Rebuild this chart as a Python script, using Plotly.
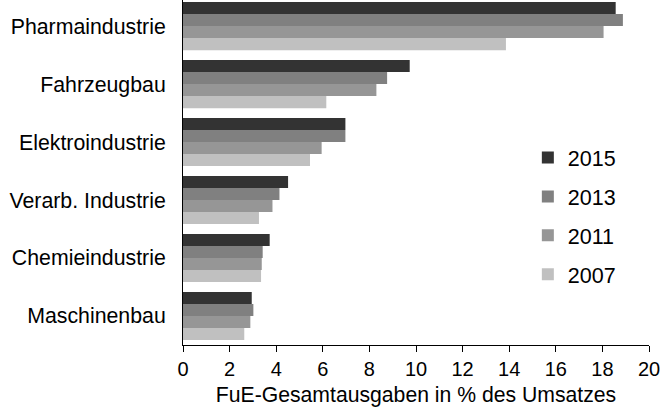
import plotly.graph_objects as go

categories = ["Maschinenbau", "Chemieindustrie", "Verarb. Industrie",
              "Elektroindustrie", "Fahrzeugbau", "Pharmaindustrie"]
years = ["2007", "2011", "2013", "2015"]
v2007 = [2.63, 3.35, 3.26, 5.45, 6.15, 13.86]
v2011 = [2.89, 3.38, 3.84, 5.95, 8.30, 18.05]
v2013 = [3.02, 3.42, 4.14, 6.97, 8.76, 18.88]
v2015 = [2.95, 3.72, 4.51, 6.97, 9.73, 18.57]
values = [v2007, v2011, v2013, v2015]
colors = ["#c0c0c0", "#969696", "#808080", "#333333"]
legend_ranks = [4, 3, 2, 1]
x_ticks = [0, 2, 4, 6, 8, 10, 12, 14, 16, 18, 20]
x_title = "FuE-Gesamtausgaben in % des Umsatzes"

FONT = "Liberation Sans, Arial, sans-serif"

fig = go.Figure()
for yr, vals, col, rk in zip(years, values, colors, legend_ranks):
    fig.add_trace(go.Bar(
        y=categories, x=vals, name=yr, orientation="h",
        marker=dict(color=col, line=dict(width=0)),
        legendgroup=yr, legendrank=rk,
    ))

fig.update_layout(
    width=661, height=407,
    margin=dict(l=183, r=12, t=0, b=62),
    paper_bgcolor="white", plot_bgcolor="white",
    barmode="group", bargap=0.17, bargroupgap=0,
    font=dict(family=FONT, size=21, color="black"),
    showlegend=True,
    legend=dict(
        x=0.74, xanchor="left", y=0.603, yanchor="top",
        traceorder="grouped", tracegroupgap=8,
        font=dict(family=FONT, size=21.5, color="black"),
        bgcolor="rgba(0,0,0,0)", borderwidth=0,
        itemwidth=30,
    ),
    xaxis=dict(
        range=[0, 20], tickvals=x_ticks, ticks="outside", ticklen=6,
        tickcolor="black", tickwidth=1,
        showline=True, linecolor="black", linewidth=1.3,
        showgrid=False, zeroline=False,
        tickfont=dict(family=FONT, size=20, color="black"),
        title=dict(text=x_title, standoff=9,
                   font=dict(family=FONT, size=21.2, color="black")),
    ),
    yaxis=dict(
        categoryorder="array", categoryarray=categories,
        range=[-0.5, 5.45],
        showline=True, linecolor="black", linewidth=1.3,
        showgrid=False, zeroline=False, ticks="",
        ticksuffix="  ",
        tickfont=dict(family=FONT, size=21.3, color="black"),
    ),
)

fig.write_html("out.html",
               config={"displayModeBar": False},
               post_script="document.body.style.margin='0';document.body.style.padding='0';")
